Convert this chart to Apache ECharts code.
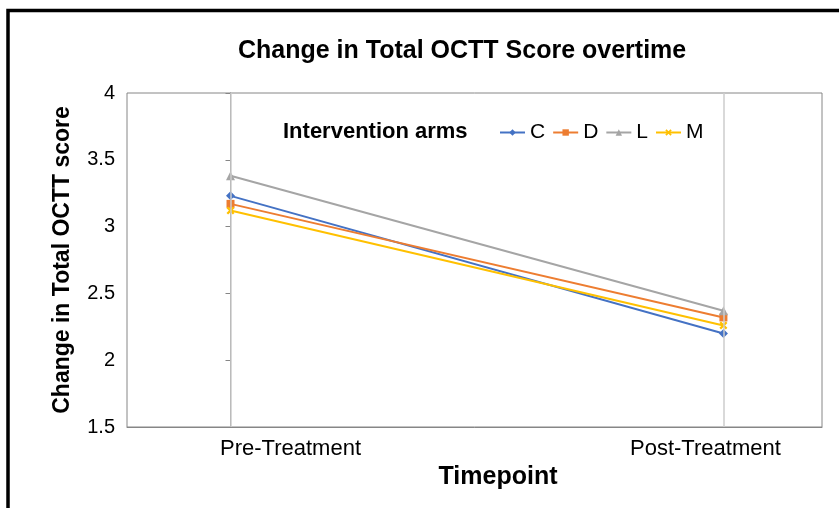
<!DOCTYPE html>
<html>
<head>
<meta charset="utf-8">
<script src="https://cdn.jsdelivr.net/npm/echarts@6/dist/echarts.min.js"></script>
<style>html,body{margin:0;padding:0;background:#fff}#c{width:839px;height:508px}</style>
</head>
<body>
<div id="c"></div>
<script>
var timepoints = ['Pre-Treatment', 'Post-Treatment'];
var timeIndex = [0, 1];
var armNames = ['C', 'D', 'L', 'M'];
var valuesC = [3.23, 2.20];
var valuesD = [3.17, 2.32];
var valuesL = [3.38, 2.37];
var valuesM = [3.12, 2.26];
var yTicks = [1.5, 2, 2.5, 3, 3.5, 4];

var armValues = [valuesC, valuesD, valuesL, valuesM];
var colors = ['#4472C4', '#ED7D31', '#A5A5A5', '#FFC000'];
var symbols = ['diamond', 'rect', 'triangle',
  'path://M2,0L5,3L8,0L10,2L7,5L10,8L8,10L5,7L2,10L0,8L3,5L0,2Z'];
var sizes = [9, 8, 9, 8];

var font = 'Liberation Sans, Arial, sans-serif';
var chart = echarts.init(document.getElementById('c'));

var series = armNames.map(function (n, i) {
  return {
    name: n, type: 'line',
    data: timeIndex.map(function (t, k) { return [t, armValues[i][k]]; }),
    symbol: symbols[i], symbolSize: sizes[i],
    lineStyle: { color: colors[i], width: 2 },
    itemStyle: { color: colors[i] },
    z: 3
  };
});
series.unshift({
  type: 'line', data: [], silent: true, z: 1,
  markLine: {
    silent: true, symbol: ['none', 'none'], label: { show: false },
    lineStyle: { color: '#cccccc', width: 1.5, type: 'solid' },
    data: timeIndex.map(function (t) { return { xAxis: t }; })
  }
});

chart.setOption({
  animation: false,
  textStyle: { fontFamily: font },
  title: {
    text: 'Change in Total OCTT Score overtime',
    left: 233, top: 34,
    textStyle: { fontSize: 25, fontWeight: 'bold', color: '#000', fontFamily: font }
  },
  graphic: [
    { type: 'rect', shape: { x: 8, y: 10.5, width: 900, height: 600 },
      style: { fill: 'none', stroke: '#000', lineWidth: 3.5 }, silent: true },
    { type: 'text', x: 283, y: 132,
      style: { text: 'Intervention arms', font: 'bold 22px ' + font, fill: '#000',
        textVerticalAlign: 'middle' } }
  ],
  legend: {
    data: armNames, left: 499, top: 122, padding: 0,
    itemWidth: 25, itemHeight: 8, itemGap: 7,
    textStyle: { fontSize: 21, color: '#000', fontFamily: font }
  },
  grid: { left: 127, top: 93, right: 17, bottom: 81, show: true,
    borderColor: '#868686', borderWidth: 1 },
  xAxis: {
    type: 'value', min: -0.21, max: 1.2,
    name: 'Timepoint', nameLocation: 'middle', nameGap: 23,
    nameTextStyle: { fontSize: 25, fontWeight: 'bold', color: '#000', padding: [0, 0, 0, 47] },
    axisLine: { show: true, lineStyle: { color: '#868686' } },
    axisTick: { show: false },
    splitLine: { show: false },
    axisLabel: {
      customValues: timeIndex, margin: 11, color: '#000', fontSize: 22,
      formatter: function (v) { return v < 0.5 ? '{pre|' + timepoints[0] + '}' : '{post|' + timepoints[1] + '}'; },
      rich: {
        pre: { fontSize: 22, color: '#000', padding: [0, 0, 0, 120] },
        post: { fontSize: 22, color: '#000', padding: [0, 36, 0, 0] }
      }
    }
  },
  yAxis: {
    type: 'value', min: 1.5, max: 4, interval: 0.5,
    name: 'Change in Total OCTT score', nameLocation: 'middle', nameGap: 53,
    nameTextStyle: { fontSize: 23, fontWeight: 'bold', color: '#000' },
    axisLine: { show: true, lineStyle: { color: '#868686' } },
    axisTick: { show: true, inside: false, length: 5, lineStyle: { color: '#868686' } },
    splitLine: { show: false },
    axisLabel: { margin: 12, color: '#000', fontSize: 20,
      formatter: function (v) { return String(v); } }
  },
  series: series
});
</script>
</body>
</html>
